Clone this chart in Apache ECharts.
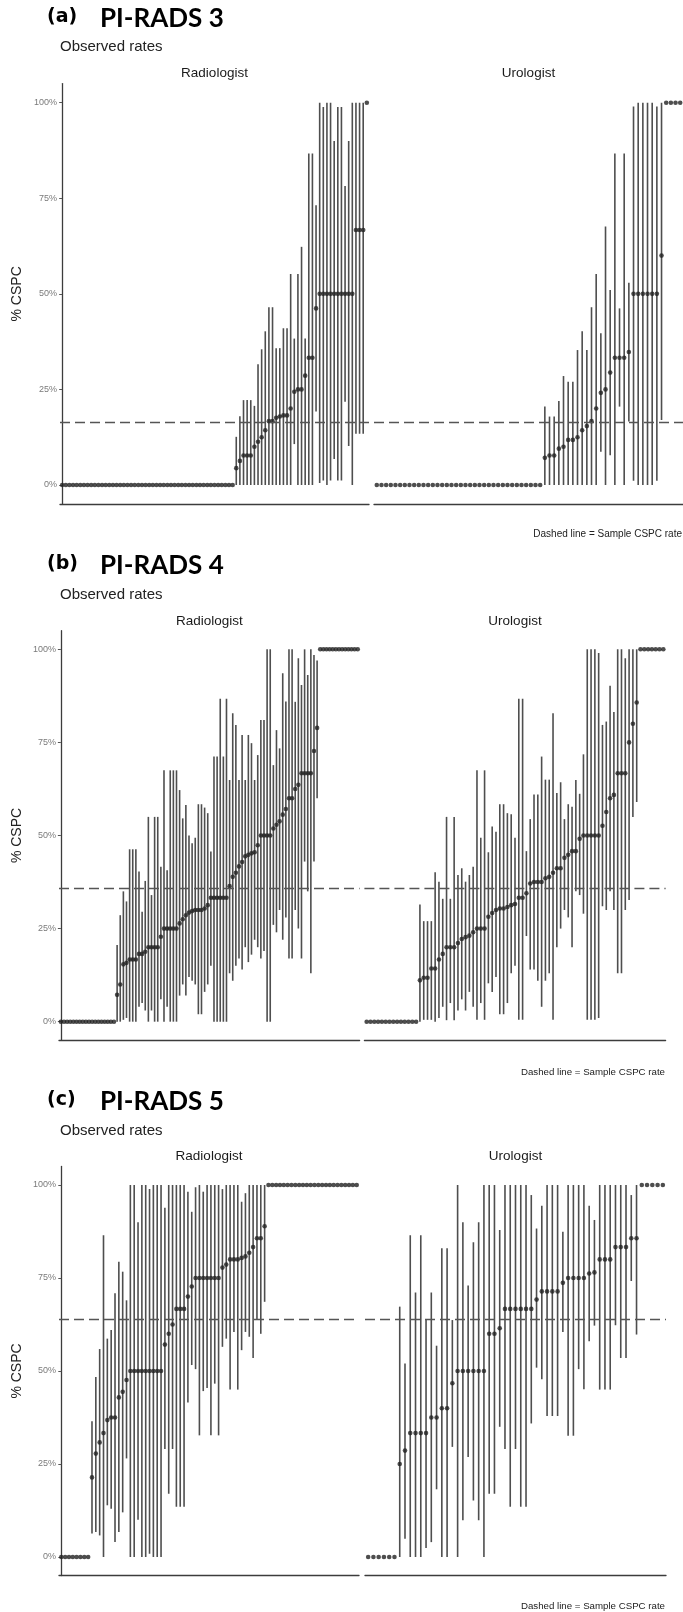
<!DOCTYPE html>
<html><head><meta charset="utf-8">
<script src="https://cdn.jsdelivr.net/npm/echarts@6/dist/echarts.min.js"></script>
<style>html,body{margin:0;padding:0;background:#fff}#c{width:683px;height:1612px}</style>
</head><body><div id="c"></div>
<script>
// ---------- text / labels ----------
const panelTags = ['(a)', '(b)', '(c)'];
const panelTitles = ['PI-RADS 3', 'PI-RADS 4', 'PI-RADS 5'];
const subTitle = 'Observed rates';
const facetNames = ['Radiologist', 'Urologist'];
const yTitle = '% CSPC';
const noteText = 'Dashed line = Sample CSPC rate';
const tickValues = [0, 25, 50, 75, 100];
const tickLabels = ['0%', '25%', '50%', '75%', '100%'];
const sampleRate = [16.3, 35.9, 63.8];

// ---------- (a) PI-RADS 3 ----------
const a_rad_val = [
0,0,0,0,0,0,0,0,0,0, 0,0,0,0,0,0,0,0,0,0, 0,0,0,0,0,0,0,0,0,0, 0,0,0,0,0,0,0,0,0,0, 0,0,0,0,0,0,0,0,
4.4,6.3,7.7,7.7,7.7,10,11.3,12.5,14.3,16.7,
16.7,17.6,17.9,18.2,18.2,20,24.4,25,25,28.6,
33.3,33.3,46.2,50,50,50,50,50,50,50,
50,50,50,66.7,66.7,66.7,100];
const a_rad_lo = [
0,0,0,0,0,0,0,0,0,0, 0,0,0,0,0,0,0,0,0,0, 0,0,0,0,0,0,0,0,0,0, 0,0,0,0,0,0,0,0,0,0, 0,0,0,0,0,0,0,0,
0,0,0,0,0,0,0,0,0,0,
0,0,0,0,0,0,10.7,0,0,0,
0,0,19.2,0.5,1.2,0,1.2,6.8,1.2,1.2,
21.8,10.2,0,13.4,13.4,13.4,100];
const a_rad_hi = [
0,0,0,0,0,0,0,0,0,0, 0,0,0,0,0,0,0,0,0,0, 0,0,0,0,0,0,0,0,0,0, 0,0,0,0,0,0,0,0,0,0, 0,0,0,0,0,0,0,0,
12.6,18,22.2,22.2,22.2,20.7,31.6,35.5,40.2,46.5,
46.5,35.8,35.8,41,41,55.2,38.3,55.2,62.3,38.3,
86.7,86.7,73.2,100,98.9,100,100,90,98.9,98.9,
78.2,90,100,100,100,100,100];

const a_uro_val = [
0,0,0,0,0,0,0,0,0,0, 0,0,0,0,0,0,0,0,0,0, 0,0,0,0,0,0,0,0,0,0, 0,0,0,0,0,0,
7.1,7.7,7.7,9.5,10,11.8,11.8,12.5,14.3,15.4,
16.7,20,24.1,25,29.4,33.3,33.3,33.3,34.8,50,
50,50,50,50,50,60,100,100,100,100];
const a_uro_lo = [
0,0,0,0,0,0,0,0,0,0, 0,0,0,0,0,0,0,0,0,0, 0,0,0,0,0,0,0,0,0,0, 0,0,0,0,0,0,
0,0,0,0,0,0,0,0,0,0,
0,0,8.7,0,7.8,0,20.5,0,16.6,1.1,
0,0,0,0,1.1,17,100,100,100,100];
const a_uro_hi = [
0,0,0,0,0,0,0,0,0,0, 0,0,0,0,0,0,0,0,0,0, 0,0,0,0,0,0,0,0,0,0, 0,0,0,0,0,0,
20.5,17.9,17.9,22,28.5,27,27,35.3,40.2,35.3,
46.5,55.2,39.7,67.6,51,86.7,46.2,86.7,52.9,99,
100,100,100,100,99,100,100,100,100,100];

// ---------- (b) PI-RADS 4 ----------
const b_rad_val = [
0,0,0,0,0,0,0,0,0,0, 0,0,0,0,0,0,0,0,
7.2,10,15.4,15.8,16.7,16.7,16.7,18.2,18.2,18.8,
20,20,20,20,22.8,25,25,25,25,25,
26.4,27.5,28.6,29.3,29.7,30,30,30,30.4,31.3,
33.3,33.3,33.3,33.3,33.3,33.3,36.4,38.9,40,41.7,
42.9,44.4,44.8,45.2,45.5,47.4,50,50,50,50,
51.9,52.9,53.8,55.6,57.1,60,60,62.5,63.6,66.7,
66.7,66.7,66.7,72.7,78.9,
100,100,100,100,100,100,100,100,100,100,100,100,100];
const b_rad_lo = [
0,0,0,0,0,0,0,0,0,0, 0,0,0,0,0,0,0,0,
0,0,0.5,1,0,0,0,4,5,3,
0,3,0,0,6,0,4,0,0,0,
7,10,7,12,11,10,2,2,8,10,
15,0,0,0,0,0,13,11,15,17,
14,20,16,18,22,20,17,19,0,0,
26,24,30,22,28,17,17,30,25,17,
43,35,13,43,60,
100,100,100,100,100,100,100,100,100,100,100,100,100];
const b_rad_hi = [
0,0,0,0,0,0,0,0,0,0, 0,0,0,0,0,0,0,0,
20.6,28.6,35,32.3,46.3,46.3,46.3,40.3,29.5,37.8,
55,34,55,55,41.6,67.5,40.7,67.5,67.5,67.5,
62.2,54.6,58.2,50,47.9,49.4,58.4,58.4,57.5,56,
45.7,71.2,71.2,86.7,71.2,86.7,64.9,82.8,79.7,64.9,
77,64.9,77,74.8,64.9,71.6,81,81,100,100,
68.9,78.3,73.4,93.6,86,100,100,85.9,97.6,90.4,
100,93.1,100,98.5,97,
100,100,100,100,100,100,100,100,100,100,100,100,100];

const b_uro_val = [
0,0,0,0,0,0,0,0,0,0, 0,0,0,0,
11.1,11.8,11.8,14.3,14.3,16.7,18.2,20,20,20,
21.1,22.2,22.7,23.1,24,25,25,25,28.2,29.2,
30,30.4,30.4,30.8,31.3,31.6,33.3,33.3,34.5,37.1,
37.5,37.5,37.5,38.5,38.9,40,41.2,41.2,44,44.8,
45.8,45.8,49.1,50,50,50,50,50,52.6,56.3,
60,60.9,66.7,66.7,66.7,75,80,85.7,
100,100,100,100,100,100,100];
const b_uro_lo = [
0,0,0,0,0,0,0,0,0,0, 0,0,0,0,
0,0.5,0.5,0.5,0,1,4,0.4,5,0.4,
3,6,3,8,4,0.5,5,0.5,10.3,8,
12,2,2,5,13,15,0.5,0.5,23,14,
14,11,4,11,13,0.5,20,25,30,28,
20,35,34,29,0.5,0.5,0.5,1,31,30,
35,30,13,13,30,32.7,55,59,
100,100,100,100,100,100,100];
const b_uro_hi = [
0,0,0,0,0,0,0,0,0,0, 0,0,0,0,
31.5,27,27,27,40.1,37.6,33,55,33,55,
39.4,41.2,37.6,39.4,41.6,67.5,49.4,67.5,45.5,52.4,
51,58.4,58.4,56,55.7,49.4,86.7,86.7,45.8,54.4,
61,61,71.2,65,65,82.8,61.4,64.3,54.4,58.4,
57.7,64.9,61.2,71.8,100,100,100,99,79.7,80.6,
90.2,83.2,100,100,97.6,100,100,100,
100,100,100,100,100,100,100];

// ---------- (c) PI-RADS 5 ----------
const c_rad_val = [
0,0,0,0,0,0,0,0,
21.4,27.8,30.8,33.3,36.8,37.5,37.5,42.9,44.4,47.6,
50,50,50,50,50,50,50,50,50,57.1,
60,62.5,66.7,66.7,66.7,70,72.7,75,75,75,
75,75,75,75,77.8,78.6,80,80,80,80.4,
80.8,81.8,83.3,85.7,85.7,88.9,
100,100,100,100,100,100,100,100,100,100,100,100,100,100,100,100,100,100,100,100,100,100,100,100];
const c_rad_lo = [
0,0,0,0,0,0,0,0,
6.3,6.7,5.8,0,13.9,13,4,6.7,12,26.5,
0,0,10,0,0,0.9,0,0,0,29,
17,29,13.5,13.5,13.5,41.5,51.6,50.5,32.7,44.6,
45.4,32.7,46.6,32.7,56.5,58.7,45,60.5,45,55.6,
60.5,59.2,53.5,64,60,68.6,
100,100,100,100,100,100,100,100,100,100,100,100,100,100,100,100,100,100,100,100,100,100,100,100];
const c_rad_hi = [
0,0,0,0,0,0,0,0,
36.5,48.4,55.9,86.5,58.7,61,70.9,79.4,76.7,69,
100,100,90,100,100,98.9,100,100,100,93.9,
100,100,100,100,100,98.2,92.8,99.4,100,98.2,
100,100,100,100,98.9,100,100,100,100,95.5,
97.8,100,100,100,100,100,
100,100,100,100,100,100,100,100,100,100,100,100,100,100,100,100,100,100,100,100,100,100,100,100];

const c_uro_val = [
0,0,0,0,0,0,
25,28.6,33.3,33.3,33.3,33.3,37.5,37.5,40,40,
46.7,50,50,50,50,50,50,60,60,61.5,
66.7,66.7,66.7,66.7,66.7,66.7,69.2,71.4,71.4,71.4,
71.4,73.7,75,75,75,75,76.2,76.5,80,80,
80,83.3,83.3,83.3,85.7,85.7,
100,100,100,100,100];
const c_uro_lo = [
0,0,0,0,0,0,
0,4.9,0,0,0,2.4,4,18.2,0,0,
29.6,0,9.9,26.9,15.2,9.9,0,17,17,35,
29,13.5,29,13.5,13.5,35.9,50.9,47.8,37.9,37.9,
37.9,60.5,32.6,32.6,50.5,45.1,58,62.2,45,45,
45,62.3,53.5,53.5,74.2,59.8,
100,100,100,100,100];
const c_uro_hi = [
0,0,0,0,0,0,
67.3,52,86.5,71.1,86.5,64,71.1,56.8,83,83,
63.7,100,90,73,84.6,90,100,100,100,87.9,
100,100,100,100,100,97.3,88.3,94.4,100,100,
100,87.4,100,100,100,100,94.4,90.6,100,100,
100,100,100,100,97.3,100,
100,100,100,100,100];

// ---------- assembly ----------
const facetData = [
  [[a_rad_val, a_rad_lo, a_rad_hi], [a_uro_val, a_uro_lo, a_uro_hi]],
  [[b_rad_val, b_rad_lo, b_rad_hi], [b_uro_val, b_uro_lo, b_uro_hi]],
  [[c_rad_val, c_rad_lo, c_rad_hi], [c_uro_val, c_uro_lo, c_uro_hi]]
];

const layout = [
  {top: 83.6, bottom: 504.1, cols: [[60, 369], [374, 683]], titleY: 19, obsY: 47, facetY: 73, noteX: 682, noteY: 534, noteSize: 10},
  {top: 630.7, bottom: 1040.3, cols: [[59, 359.6], [364.4, 665.6]], titleY: 566, obsY: 595, facetY: 621, noteX: 665, noteY: 1072, noteSize: 9.7},
  {top: 1166.4, bottom: 1575.6, cols: [[59, 359], [365, 666]], titleY: 1102, obsY: 1131, facetY: 1156, noteX: 665, noteY: 1606, noteSize: 9.7}
];

const SANS = '"Liberation Sans", Arial, sans-serif';
const grids = [], xAxes = [], yAxes = [], series = [], graphic = [];

function renderBar(params, api) {
  const x = api.value(0), lo = api.value(1), hi = api.value(2);
  if (!(hi > lo)) return null;
  const p1 = api.coord([x, lo]);
  const p2 = api.coord([x, hi]);
  return {
    type: 'line',
    shape: {x1: p1[0], y1: p1[1], x2: p2[0], y2: p2[1]},
    style: {stroke: '#4e4e4e', lineWidth: 1.6}
  };
}

layout.forEach((L, p) => {
  const h = L.bottom - L.top;
  facetData[p].forEach((fd, f) => {
    const g = p * 2 + f;
    const [vals, los, his] = fd;
    const n = vals.length;
    const c = L.cols[f];
    grids.push({left: c[0], top: L.top, width: c[1] - c[0], height: h, containLabel: false, outerBoundsMode: 'none'});
    xAxes.push({
      gridIndex: g, type: 'value', min: -0.6, max: n - 0.4,
      axisLine: {show: true, onZero: false, lineStyle: {color: '#3c3c3c', width: 1.3}},
      axisTick: {show: false}, axisLabel: {show: false}, splitLine: {show: false}
    });
    yAxes.push({
      gridIndex: g, type: 'value', min: -5, max: 105, show: f === 0,
      axisLine: {show: true, lineStyle: {color: '#3c3c3c', width: 1.3}},
      axisTick: {show: true, length: 3, customValues: tickValues, lineStyle: {color: '#555', width: 1}},
      axisLabel: {show: true, customValues: tickValues, margin: 3,
        formatter: v => tickLabels[tickValues.indexOf(v)],
        color: '#7a7a7a', fontSize: 9, fontFamily: SANS},
      splitLine: {show: false}
    });
    const bars = vals.map((v, i) => [i, los[i], his[i]]);
    const pts = vals.map((v, i) => [i, v]);
    series.push({
      type: 'custom', xAxisIndex: g, yAxisIndex: g, data: bars,
      renderItem: renderBar, encode: {x: 0, y: [1, 2]}, z: 2, silent: true, animation: false
    });
    series.push({
      type: 'scatter', xAxisIndex: g, yAxisIndex: g, data: pts,
      symbol: 'circle', symbolSize: 4.6, itemStyle: {color: '#222'}, z: 3, silent: true, animation: false,
      markLine: {
        silent: true, symbol: ['none', 'none'], label: {show: false}, animation: false,
        lineStyle: {type: [10, 5], color: '#555', width: 1.3},
        data: [{yAxis: sampleRate[p]}]
      }
    });
    graphic.push({
      type: 'text', x: (c[0] + c[1]) / 2, y: L.facetY,
      style: {text: facetNames[f], font: '13.5px ' + SANS, fill: '#1a1a1a', align: 'center', verticalAlign: 'middle'}
    });
  });
  graphic.push({type: 'text', x: 47, y: L.titleY - 2,
    style: {text: panelTags[p], font: 'bold 19px "DejaVu Sans"', fill: '#000', align: 'left', verticalAlign: 'middle'}});
  graphic.push({type: 'text', x: 100, y: L.titleY,
    style: {text: panelTitles[p], font: 'bold 26px Lato', fill: '#000', align: 'left', verticalAlign: 'middle'}});
  graphic.push({type: 'text', x: 60, y: L.obsY,
    style: {text: subTitle, font: '15px ' + SANS, fill: '#222', align: 'left', verticalAlign: 'middle'}});
  graphic.push({type: 'text', x: 17.5, y: L.top + h * 55 / 110, rotation: Math.PI / 2,
    style: {text: yTitle, font: '14px ' + SANS, fill: '#222', align: 'center', verticalAlign: 'middle'}});
  graphic.push({type: 'text', x: L.noteX, y: L.noteY,
    style: {text: noteText, font: L.noteSize + 'px ' + SANS, fill: '#222', align: 'right', verticalAlign: 'middle'}});
});

const chart = echarts.init(document.getElementById('c'), null, {renderer: 'canvas'});
chart.setOption({
  backgroundColor: '#fff',
  animation: false,
  grid: grids, xAxis: xAxes, yAxis: yAxes, series: series, graphic: graphic
});
</script></body></html>
